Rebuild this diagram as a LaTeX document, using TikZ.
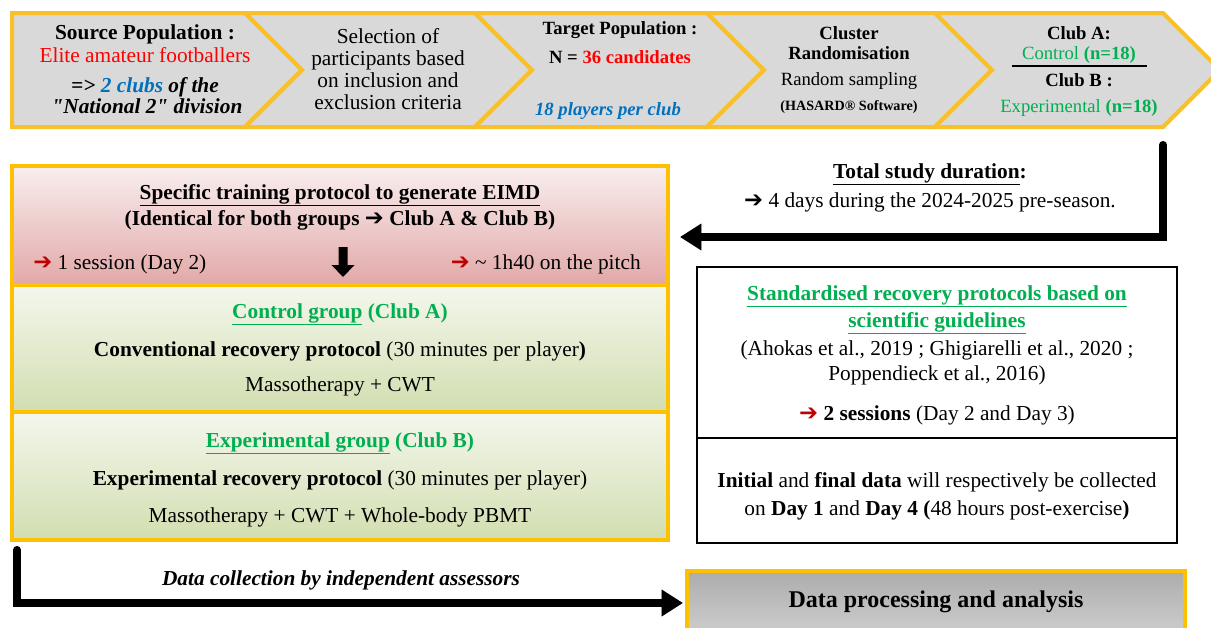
\documentclass[tikz,border=0pt]{standalone}
\usepackage{fontspec}
\setmainfont{Liberation Serif}
\newfontfamily\plainrm{Liberation Serif}
\newfontfamily\dejavu{DejaVu Sans}
\usetikzlibrary{arrows.meta}
\definecolor{gold}{RGB}{255,192,0}
\definecolor{bannergold}{RGB}{250,192,40}
\definecolor{bgray}{RGB}{217,217,217}
\definecolor{myred}{RGB}{255,0,0}
\definecolor{darkred}{RGB}{192,0,0}
\definecolor{myblue}{RGB}{0,112,192}
\definecolor{mygreen}{RGB}{0,176,80}
\definecolor{pinktop}{RGB}{249,238,238}
\definecolor{pinkbot}{RGB}{226,168,168}
\definecolor{greentop}{RGB}{244,247,237}
\definecolor{greenbot}{RGB}{210,222,176}
\newcommand\arr{{\dejavu\bfseries\fontsize{17}{18}\selectfont ➔}}
\newcommand\rarr{{\color{darkred}\dejavu\bfseries\fontsize{17}{18}\selectfont ➔}}
\newcommand\qt{{\plainrm\bfseries\itshape "}}
\begin{document}
\begin{tikzpicture}[x=0.75pt,y=-0.75pt,
  t/.style={anchor=base, inner sep=0pt, font=\fontsize{16}{18}\selectfont},
  ts/.style={anchor=base, inner sep=0pt, font=\fontsize{14}{16}\selectfont},
  chev/.style={fill=bgray, draw=bannergold, line width=3pt, line join=miter},
  goldbox/.style={draw=gold, line width=3pt, inner sep=0pt, outer sep=0pt},
  blackbox/.style={draw=black, line width=1.5pt, inner sep=0pt, outer sep=0pt, fill=white},
  bigarrow/.style={line width=6pt, line cap=round, line join=miter, -{Triangle[length=16pt,width=19pt]}},
  shadowarrow/.style={bigarrow, draw=black, opacity=0.25},
]
\clip (0,0) rectangle (1211,628);
\fill[white] (0,0) rectangle (1211,628);

% ---------- banner ----------
\draw[chev] (12,13) -- (245,13) -- (302,70) -- (245,127) -- (12,127) -- cycle;
\draw[chev] (245,13) -- (475,13) -- (532,70) -- (475,127) -- (245,127) -- (302,70) -- cycle;
\draw[chev] (475,13) -- (707,13) -- (764,70) -- (707,127) -- (475,127) -- (532,70) -- cycle;
\draw[chev] (707,13) -- (935,13) -- (992,70) -- (935,127) -- (707,127) -- (764,70) -- cycle;
\draw[chev] (935,13) -- (1163,13) -- (1220,70) -- (1163,127) -- (935,127) -- (992,70) -- cycle;

\node[t] (p1a) at (145,39) {\bfseries Source Population :};
\node[t] (p1b) at (145,62) {\color{myred}Elite amateur footballers};
\node[t] (p1c) at (145,92) {\bfseries\itshape => {\color{myblue}2 clubs} of the};
\node[t] (p1d) at (147,113) {\bfseries\itshape \qt National 2\qt{} division};

\node[t] (p2a) at (388,43) {Selection of};
\node[t] (p2b) at (388,65) {participants based};
\node[t] (p2c) at (388,87) {on inclusion and};
\node[t] (p2d) at (388,109) {exclusion criteria};

\node[ts] (p3a) at (620,35) {\bfseries Target Population :};
\node[ts] (p3b) at (620,63) {\bfseries N = {\color{myred}36 candidates}};
\node[ts] (p3c) at (608,115) {\bfseries\itshape\color{myblue}18 players per club};

\node[ts] (p4a) at (849,40) {\bfseries Cluster};
\node[ts] (p4b) at (849,60) {\bfseries Randomisation};
\node[ts] (p4c) at (849,85) {Random sampling};
\node[anchor=base, inner sep=0pt, font=\fontsize{10.6}{12}\selectfont] (p4d) at (849,110) {\bfseries (HASARD® Software)};

\node[ts] (p5a) at (1079,39) {\bfseries Club A:};
\node[ts] (p5b) at (1079,60) {\color{mygreen}Control \textbf{(n=18)}};
\draw[line width=0.8pt] (1012,66) -- (1147,66);
\node[ts] (p5c) at (1079,86) {\bfseries Club B :};
\node[ts] (p5d) at (1079,112) {\color{mygreen}Experimental \textbf{(n=18)}};

% ---------- left block ----------
\node[goldbox, top color=pinktop, bottom color=pinkbot, minimum width=492pt, minimum height=89.25pt] (red) at (340,225.5) {};
\node[goldbox, top color=greentop, bottom color=greenbot, minimum width=492pt, minimum height=95.25pt] (ctrl) at (340,348.5) {};
\node[goldbox, top color=greentop, bottom color=greenbot, minimum width=492pt, minimum height=96pt] (expg) at (340,476) {};

\node[t] (r1) at (340,199) {\bfseries\underline{Specific training protocol to generate EIMD}};
\node[t] (r2) at (340,225) {\bfseries (Identical for both groups \arr{} Club A \& Club B)};
\node[t, anchor=base west] (r3) at (33,269) {\rarr{} 1 session (Day 2)};
\node[t, anchor=base east] (r4) at (641,269) {\rarr{} \textasciitilde{} 1h40 on the pitch};
\fill[black] (338.5,247) -- (347.5,247) -- (347.5,265) -- (354.5,265) -- (343,277) -- (331.5,265) -- (338.5,265) -- cycle;

\node[t] (c1) at (340,318) {\bfseries\color{mygreen}\underline{Control group} (Club A)};
\node[t] (c2) at (340,356) {\textbf{Conventional recovery protocol} (30 minutes per player\textbf{)}};
\node[t] (c3) at (340,391) {Massotherapy + CWT};

\node[t] (e1) at (340,447) {\bfseries\color{mygreen}\underline{Experimental group} (Club B)};
\node[t] (e2) at (340,485) {\textbf{Experimental recovery protocol} (30 minutes per player)};
\node[t] (e3) at (340,522) {Massotherapy + CWT + Whole-body PBMT};

% ---------- right side ----------
\node[t] (d1) at (930,178) {\bfseries\underline{Total study duration}:};
\node[t] (d2) at (930,207) {\arr{} 4 days during the 2024-2025 pre-season.};
\coordinate (durstart) at (1163,145);
\coordinate (durend) at (680,237);
\draw[shadowarrow, xshift=2.5pt, yshift=-2.5pt] (durstart) |- (durend);
\draw[bigarrow] (durstart) |- (durend);

\node[blackbox, minimum width=360pt, minimum height=128.25pt] (rb1) at (937,352.5) {};
\node[blackbox, minimum width=360pt, minimum height=78.75pt] (rb2) at (937,490.5) {};
\node[t] (s1) at (937,300) {\bfseries\color{mygreen}\underline{Standardised recovery protocols based on}};
\node[t] (s2) at (937,327) {\bfseries\color{mygreen}\underline{scientific guidelines}};
\node[t] (s3) at (937,355) {(Ahokas et al., 2019 ; Ghigiarelli et al., 2020 ;};
\node[t] (s4) at (937,380) {Poppendieck et al., 2016)};
\node[t] (s5) at (937,420) {\rarr{} \textbf{2 sessions} (Day 2 and Day 3)};
\node[t] (i1) at (937,487) {\textbf{Initial} and \textbf{final data} will respectively be collected};
\node[t] (i2) at (937,515) {on \textbf{Day 1} and \textbf{Day 4 (}48 hours post-exercise\textbf{)}};

% ---------- bottom ----------
\node[goldbox, top color={rgb,255:red,172;green,172;blue,172}, bottom color={rgb,255:red,214;green,214;blue,214}, minimum width=373.5pt, minimum height=59.25pt] (proc) at (936,610.5) {};
\node[anchor=base, inner sep=0pt, font=\fontsize{18}{20}\selectfont] (proct) at (936,607) {\bfseries Data processing and analysis};
\node[t] (dc) at (341,585) {\bfseries\itshape Data collection by independent assessors};
\coordinate (colstart) at (17,550);
\coordinate (colend) at (683,603);
\draw[shadowarrow, xshift=2.5pt, yshift=-2.5pt] (colstart) |- (colend);
\draw[bigarrow] (colstart) |- (colend);
\end{tikzpicture}
\end{document}
